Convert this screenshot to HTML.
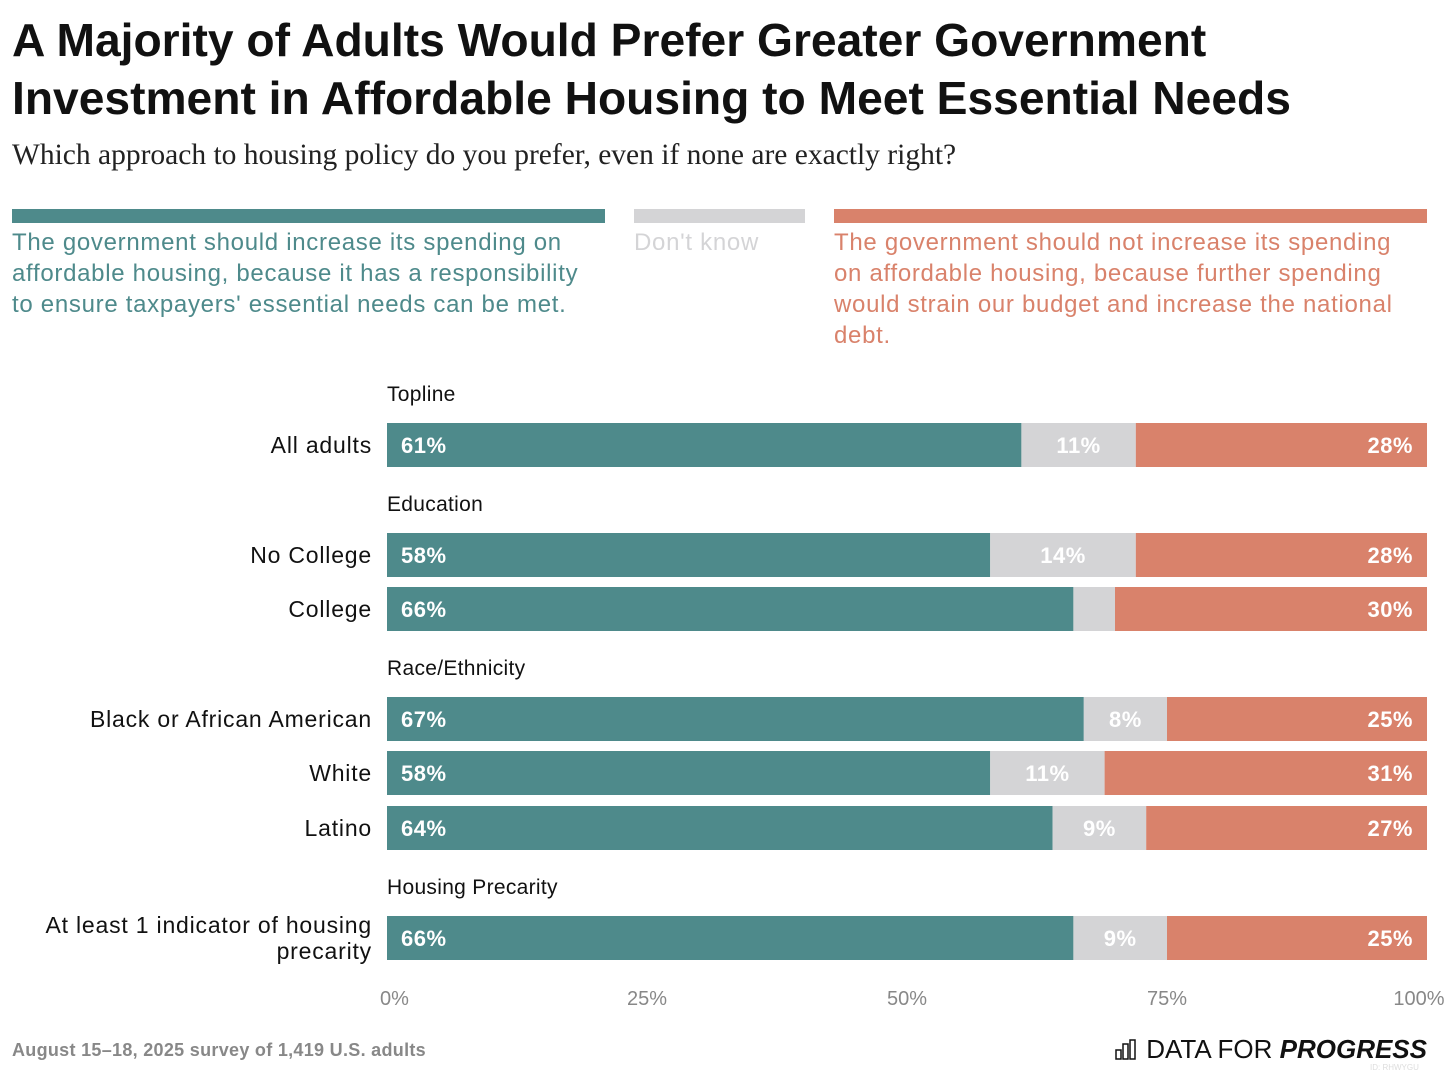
<!DOCTYPE html>
<html><head><meta charset="utf-8"><style>
body{margin:0;width:1456px;height:1074px;background:#fff;font-family:"Liberation Sans",sans-serif;position:relative;overflow:hidden}
.t{position:absolute;white-space:nowrap}
</style></head><body>
<div class="t" style="left:12px;top:11px;font-size:46.2px;font-weight:bold;line-height:58px;color:#111">A Majority of Adults Would Prefer Greater Government<br>Investment in Affordable Housing to Meet Essential Needs</div>
<div class="t" style="left:12px;top:139px;font-family:'Liberation Serif',serif;font-size:29.5px;color:#222">Which approach to housing policy do you prefer, even if none are exactly right?</div>
<div style="position:absolute;left:12px;top:209px;width:593px;height:14px;background:#4e8a8b"></div>
<div style="position:absolute;left:634px;top:209px;width:171px;height:14px;background:#d4d4d6"></div>
<div style="position:absolute;left:834px;top:209px;width:593px;height:14px;background:#d9826b"></div>
<div class="t" style="left:12px;top:227px;font-size:24px;letter-spacing:0.7px;line-height:31px;color:#4e8a8b">The government should increase its spending on<br>affordable housing, because it has a responsibility<br>to ensure taxpayers' essential needs can be met.</div>
<div class="t" style="left:634px;top:227px;font-size:24px;letter-spacing:0.7px;line-height:31px;color:#d4d4d6">Don't know</div>
<div class="t" style="left:834px;top:227px;font-size:24px;letter-spacing:0.7px;line-height:31px;color:#d9826b">The government should not increase its spending<br>on affordable housing, because further spending<br>would strain our budget and increase the national<br>debt.</div>
<svg id="chart" width="1456" height="1074" style="position:absolute;left:0;top:0"></svg>
<div class="t" style="left:12px;top:1040px;font-size:18px;font-weight:bold;color:#888;letter-spacing:0.3px">August 15–18, 2025 survey of 1,419 U.S. adults</div>
<div class="t" style="right:29px;top:1034px;font-size:26px;color:#111">
<svg width="24" height="22" style="vertical-align:-2px"><g fill="none" stroke="#111" stroke-width="1.5"><rect x="1" y="12" width="5" height="9"/><rect x="8" y="6" width="5" height="15"/><rect x="15" y="2" width="5" height="19"/></g></svg>
DATA FOR <b><i>PROGRESS</i></b></div>
<div class="t" style="left:1370px;top:1063px;font-size:8px;color:#ddd">ID: RHWYGU</div>
<script>
const categories=["All adults","No College","College","Black or African American","White","Latino","At least 1 indicator of housing|precarity"];
const groups=["Topline","Education","Education","Race/Ethnicity","Race/Ethnicity","Race/Ethnicity","Housing Precarity"];
const increaseVals=[61,58,66,67,58,64,66];
const dontKnowVals=[11,14,4,8,11,9,9];
const notIncreaseVals=[28,28,30,25,31,27,25];
const tickVals=[0,25,50,75,100];
const rowY=[423,533,587,697,751,806,916];
const groupY=[394,504,668,887];
const NS="http://www.w3.org/2000/svg";
const svg=document.getElementById('chart');
const x0=387,x1=1427,bh=44;
const xs=v=>x0+(x1-x0)*v/100;
function mk(tag,attrs,txt){const e=document.createElementNS(NS,tag);for(const k in attrs)e.setAttribute(k,attrs[k]);if(txt!==undefined)e.textContent=txt;svg.appendChild(e);return e;}
let gi=0,prev=null;
groups.forEach((g,i)=>{if(g!==prev){const t=mk('text',{x:x0,y:groupY[gi]+7,'font-size':21,'letter-spacing':0.3,fill:'#111'},g);

gi++;prev=g;}});
categories.forEach((c,i)=>{
const y=rowY[i];
const lines=c.split('|');
lines.forEach((l,j)=>{const t=mk('text',{x:372,y:y+bh/2+8+(lines.length>1?(j-0.5)*26:0),'font-size':23,'letter-spacing':0.8,'text-anchor':'end',fill:'#111'},l);

});
const a=increaseVals[i],b=dontKnowVals[i],d=notIncreaseVals[i];
const segs=[[0,a,'#4e8a8b'],[a,a+b,'#d4d4d6'],[a+b,a+b+d,'#d9826b']];
segs.forEach((s,k)=>{const r=mk('rect',{x:xs(s[0]),y:y,width:xs(s[1])-xs(s[0]),height:bh,fill:s[2]});

});
const t1=mk('text',{x:x0+14,y:y+bh/2+8,'font-size':22,'font-weight':'bold','letter-spacing':0.5,fill:'#fff'},a+'%');


if(b>=6){const t2=mk('text',{x:(xs(a)+xs(a+b))/2,y:y+bh/2+8,'font-size':22,'font-weight':'bold','letter-spacing':0.5,fill:'#fff','text-anchor':'middle'},b+'%');

}
const t3=mk('text',{x:x1-14,y:y+bh/2+8,'font-size':22,'font-weight':'bold','letter-spacing':0.5,fill:'#fff','text-anchor':'end'},d+'%');


});
tickVals.forEach((v,i)=>{const t=mk('text',{x:xs(v)+(i==0?-7:i==4?-8:0),y:1005,'font-size':20,fill:'#888','text-anchor':i==0?'start':'middle'},v+'%');

});
</script>
</body></html>
